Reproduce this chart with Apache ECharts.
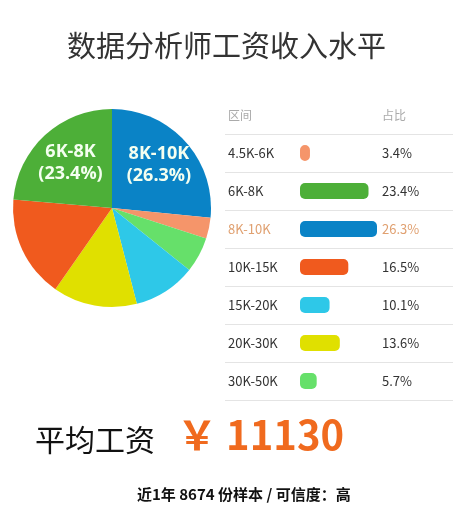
<!DOCTYPE html>
<html><head><meta charset="utf-8">
<script src="https://cdn.jsdelivr.net/npm/echarts@6/dist/echarts.min.js"></script>
<style>html,body{margin:0;padding:0;background:#fff}#c{width:453px;height:512px}</style>
</head><body><div id="c"></div>
<script>
const categories = ['4.5K-6K','6K-8K','8K-10K','10K-15K','15K-20K','20K-30K','30K-50K'];
const values = [3.4, 23.4, 26.3, 16.5, 10.1, 13.6, 5.7];
const colors = ['#f5956a','#4daf38','#0a83c6','#f05a1e','#2ec8e8','#e0e000','#66e06a'];
const pieOrder = ['8K-10K','4.5K-6K','30K-50K','15K-20K','20K-30K','10K-15K','6K-8K'];
const headerName = '区间', headerPct = '占比';
const rows = [headerName].concat(categories);
const pctLabels = [headerPct].concat(values.map(v => v.toFixed(1) + '%'));
const avgSalary = '11130';

const chart = echarts.init(document.getElementById('c'));
const F = 'Noto Sans CJK SC';
const labelOffsets = { '8K-10K': [8, -8], '6K-8K': [-6, -6] };
chart.setOption({
  animation: false,
  textStyle: { fontFamily: F },
  title: [
    { text: '数据分析师工资收入水平', left: 'center', top: 26, textStyle: { fontSize: 29, fontWeight: 'normal', color: '#333', fontFamily: F } },
    { text: '平均工资', left: 30, top: 420, textStyle: { fontSize: 30, fontWeight: 'normal', color: '#111', fontFamily: F } },
    { text: '￥ ' + avgSalary, left: 172, top: 410, textStyle: { fontSize: 40, fontWeight: 'bold', color: '#f06a1e', fontFamily: F } },
    { text: '近1年 8674 份样本 / 可信度：高', left: 132, top: 482, textStyle: { fontSize: 15, fontWeight: 'bold', color: '#111', fontFamily: F } }
  ],
  grid: [
    { left: 225, right: 0, top: 96, height: 304 },
    { left: 300, width: 77, top: 96, height: 304 }
  ],
  xAxis: [
    { gridIndex: 0, show: false, min: 0, max: 1 },
    { gridIndex: 1, show: false, min: 0, max: 26.3 }
  ],
  yAxis: [
    { gridIndex: 0, type: 'category', data: rows, inverse: true, axisLine: { show: false }, axisTick: { show: false }, axisLabel: { show: false },
      splitLine: { show: true, lineStyle: { color: '#e4e4e4' }, interval: (i) => i > 0 } },
    { gridIndex: 1, type: 'category', data: rows, inverse: true, axisLine: { show: false }, axisTick: { show: false },
      axisLabel: { align: 'left', margin: 72, fontSize: 13, fontFamily: F,
        formatter: (v, i) => i === 0 ? '{h|' + v + '}' : (v === '8K-10K' ? '{o|' + v + '}' : '{n|' + v + '}'),
        rich: { h: { color: '#aaa', fontSize: 12 }, o: { color: '#e0a070', fontSize: 13 }, n: { color: '#333', fontSize: 13 } } } },
    { gridIndex: 1, type: 'category', position: 'right', data: pctLabels, inverse: true, axisLine: { show: false }, axisTick: { show: false },
      axisLabel: { margin: 5, fontSize: 13, fontFamily: F,
        formatter: (v, i) => i === 0 ? '{h|' + v + '}' : (i === 3 ? '{o|' + v + '}' : '{n|' + v + '}'),
        rich: { h: { color: '#aaa', fontSize: 12 }, o: { color: '#e0a070', fontSize: 13 }, n: { color: '#333', fontSize: 13 } } } }
  ],
  series: [
    { type: 'bar', xAxisIndex: 1, yAxisIndex: 1, barWidth: 16,
      data: [null].concat(values.map((v, i) => ({ value: v, itemStyle: { color: colors[i], borderRadius: 5 } }))) },
    { type: 'pie', center: [112, 208], radius: 99, startAngle: 90, clockwise: true, avoidLabelOverlap: false,
      labelLayout: { hideOverlap: false },
      label: { show: false },
      data: pieOrder.map(n => {
        const i = categories.indexOf(n);
        const big = n in labelOffsets;
        return { name: n, value: values[i], itemStyle: { color: colors[i] },
          label: { show: big, position: 'inside', offset: labelOffsets[n] || [0, 0], formatter: '{b}\n({c}%)', color: '#f4fff0', fontWeight: 'bold', fontSize: 18, lineHeight: 22, fontFamily: 'Open Sans' } };
      }) }
  ]
});
</script></body></html>
